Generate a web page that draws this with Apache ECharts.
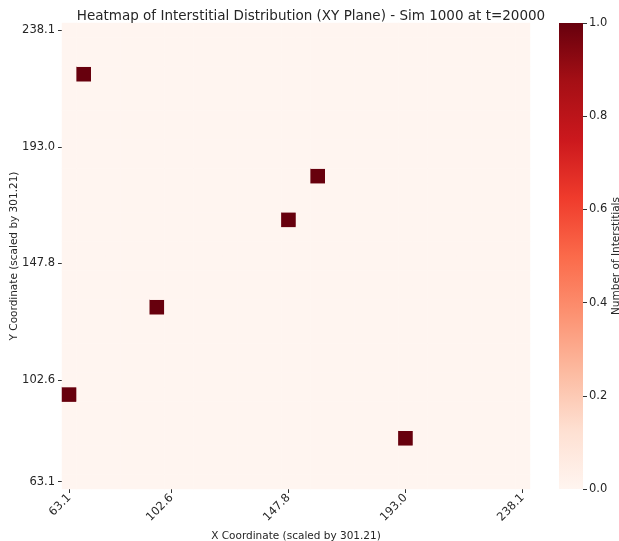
<!DOCTYPE html>
<html>
<head>
<meta charset="utf-8">
<script src="https://cdn.jsdelivr.net/npm/echarts@6/dist/echarts.min.js"></script>
<style>html,body{margin:0;padding:0;background:#fff}#c{width:619px;height:541px}</style>
</head>
<body>
<div id="c"></div>
<script>
// Bin labels (32 bins along each axis)
const xBins = ['63.1','68.7','74.4','80.0','85.7','91.3','97.0','102.6','108.3','113.9','119.5','125.2','130.8','136.5','142.1','147.8','153.4','159.1','164.7','170.4','176.0','181.6','187.3','193.0','198.6','204.2','209.9','215.5','221.2','226.8','232.5','238.1'];
const yBins = ['63.1','68.7','74.4','80.0','85.7','91.3','97.0','102.6','108.3','113.9','119.5','125.2','130.8','136.5','142.1','147.8','153.4','159.1','164.7','170.4','176.0','181.6','187.3','193.0','198.6','204.2','209.9','215.5','221.2','226.8','232.5','238.1'];
const tickIdx = [0, 7, 15, 23, 31];
// Occupied cells (bin index) and their counts
const ptX = [1, 0, 6, 15, 17, 23];
const ptY = [28, 6, 12, 18, 21, 3];
const ptCount = [1, 1, 1, 1, 1, 1];

const reds = ['#fff5f0','#fee0d2','#fcbba1','#fc9272','#fb6a4a','#ef3b2c','#cb181d','#a50f15','#67000d'];

const data = [];
for (let i = 0; i < xBins.length; i++) {
  for (let j = 0; j < yBins.length; j++) {
    let v = 0;
    for (let k = 0; k < ptX.length; k++) if (ptX[k] === i && ptY[k] === j) v = ptCount[k];
    data.push([i, j, v]);
  }
}

const chart = echarts.init(document.getElementById('c'));
const font = 'DejaVu Sans';
const txt = '#262626';
chart.setOption({
  backgroundColor: '#fff',
  animation: false,
  textStyle: {fontFamily: font},
  title: {
    text: 'Heatmap of Interstitial Distribution (XY Plane) - Sim 1000 at t=20000',
    left: 306, top: 4, textAlign: 'center',
    textStyle: {fontFamily: font, fontSize: 13.5, fontWeight: 'normal', color: txt}
  },
  visualMap: {
    show: false, min: 0, max: 1, seriesIndex: 0, dimension: 2,
    inRange: {color: reds}
  },
  grid: [
    {left: 62, top: 23, width: 468, height: 466, show: false, containLabel: false, outerBoundsMode: 'none'},
    {left: 559, top: 23, width: 24, height: 466, show: true, borderWidth: 0, containLabel: false, outerBoundsMode: 'none',
     backgroundColor: {type: 'linear', x: 0, y: 1, x2: 0, y2: 0,
       colorStops: reds.map((c, i) => ({offset: i / (reds.length - 1), color: c}))}}
  ],
  xAxis: [
    {
      type: 'category', gridIndex: 0, data: xBins,
      name: 'X Coordinate (scaled by 301.21)', nameLocation: 'middle', nameGap: 42,
      nameMoveOverlap: false,
      nameTextStyle: {fontFamily: font, fontSize: 10.5, color: txt},
      axisLine: {show: false},
      axisTick: {show: true, alignWithLabel: true, length: 4, lineStyle: {color: '#333'},
        interval: (i) => tickIdx.includes(i)},
      axisLabel: {interval: (i) => tickIdx.includes(i), rotate: 45, margin: 7,
        fontFamily: font, fontSize: 11.5, color: txt},
      splitLine: {show: false}
    },
    {type: 'value', gridIndex: 1, min: 0, max: 1, show: false}
  ],
  yAxis: [
    {
      type: 'category', gridIndex: 0, data: yBins,
      name: 'Y Coordinate (scaled by 301.21)', nameLocation: 'middle', nameGap: 42,
      nameRotate: 90, nameMoveOverlap: false,
      nameTextStyle: {fontFamily: font, fontSize: 10.5, color: txt},
      axisLine: {show: false},
      axisTick: {show: true, alignWithLabel: true, length: 4, lineStyle: {color: '#333'},
        interval: (i) => tickIdx.includes(i)},
      axisLabel: {interval: (i) => tickIdx.includes(i), margin: 7,
        fontFamily: font, fontSize: 11.5, color: txt},
      splitLine: {show: false}
    },
    {
      type: 'value', gridIndex: 1, min: 0, max: 1, interval: 0.2, position: 'right',
      name: 'Number of Interstitials', nameLocation: 'middle', nameGap: 28, nameRotate: 90,
      nameMoveOverlap: false,
      nameTextStyle: {fontFamily: font, fontSize: 10.5, color: txt},
      axisLine: {show: false, onZero: false},
      axisTick: {show: true, length: 4, lineStyle: {color: '#333'}},
      axisLabel: {margin: 6, formatter: (v) => v.toFixed(1), fontFamily: font, fontSize: 11.5, color: txt},
      splitLine: {show: false}
    }
  ],
  series: [{
    type: 'heatmap', xAxisIndex: 0, yAxisIndex: 0, data: data,
    itemStyle: {borderWidth: 0},
    emphasis: {disabled: true}
  }]
});
</script>
</body>
</html>
